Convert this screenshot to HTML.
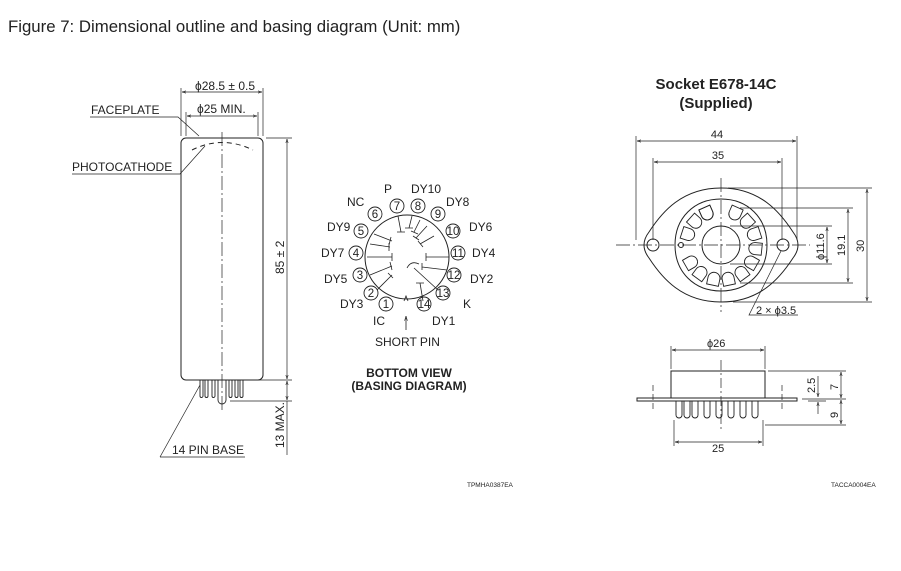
<!DOCTYPE html>
<html><head><meta charset="utf-8"><style>
html,body{margin:0;padding:0;background:#fff;}
svg{display:block;font-family:"Liberation Sans",Arial,sans-serif;}
text{fill:#222;}
</style></head><body>
<svg width="901" height="571" viewBox="0 0 901 571" xmlns="http://www.w3.org/2000/svg">
<defs>
<marker id="a" viewBox="0 0 10 10" refX="10" refY="5" markerWidth="6" markerHeight="6" orient="auto-start-reverse"><path d="M0,2 L10,5 L0,8" fill="none" stroke="#222" stroke-width="1.2"/></marker>
</defs>
<text x="8" y="32" font-size="16.8">Figure 7: Dimensional outline and basing diagram (Unit: mm)</text>

<g stroke="#222" stroke-width="1" fill="none">
<rect x="181" y="138" width="82" height="242" rx="5"/>
<path d="M192,150 Q222,135 253,150" stroke-dasharray="5,4"/>
<line x1="222" y1="132" x2="222" y2="412" stroke-dasharray="14,3,2,3" stroke-width="0.7"/>
<g stroke-width="0.9">
<path d="M200,380 v16 a1.5,1.5 0 0 0 3,0 v-16 M205,380 v16 a1.5,1.5 0 0 0 3,0 v-16 M212,380 v16 a1.5,1.5 0 0 0 3,0 v-16 M218,380 v20 a4,4 0 0 0 8,0 v-20 M229,380 v16 a1.5,1.5 0 0 0 3,0 v-16 M235,380 v16 a1.5,1.5 0 0 0 3,0 v-16 M240,380 v16 a1.5,1.5 0 0 0 3,0 v-16"/>
</g>
<line x1="181" y1="136" x2="181" y2="88" stroke-width="0.7"/>
<line x1="263" y1="136" x2="263" y2="88" stroke-width="0.7"/>
<line x1="182" y1="92" x2="262" y2="92" marker-start="url(#a)" marker-end="url(#a)" stroke-width="0.7"/>
<line x1="186" y1="136" x2="186" y2="112" stroke-width="0.7"/>
<line x1="258" y1="136" x2="258" y2="112" stroke-width="0.7"/>
<line x1="187" y1="116" x2="257" y2="116" marker-start="url(#a)" marker-end="url(#a)" stroke-width="0.7"/>
<line x1="266" y1="138" x2="292" y2="138" stroke-width="0.7"/>
<line x1="244" y1="380" x2="292" y2="380" stroke-width="0.7"/>
<line x1="230" y1="401" x2="292" y2="401" stroke-width="0.7"/>
<line x1="287" y1="139" x2="287" y2="379" marker-start="url(#a)" marker-end="url(#a)" stroke-width="0.7"/>
<line x1="287" y1="381" x2="287" y2="400" marker-start="url(#a)" marker-end="url(#a)" stroke-width="0.7"/>
<line x1="287" y1="401" x2="287" y2="455" stroke-width="0.7"/>
<polyline points="90,117 178,117 199,136" stroke-width="0.7"/>
<polyline points="72,174 180,174 205,146" stroke-width="0.7"/>
<polyline points="160,457 245,457" stroke-width="0.7"/>
<line x1="160" y1="457" x2="200" y2="385" stroke-width="0.7"/>
</g>
<g font-size="12">
<text x="195" y="90">ϕ28.5 ± 0.5</text>
<text x="197" y="113">ϕ25 MIN.</text>
<text x="91" y="114">FACEPLATE</text>
<text x="72" y="171">PHOTOCATHODE</text>
<text x="172" y="454">14 PIN BASE</text>
<text transform="translate(284,274) rotate(-90)">85 ± 2</text>
<text transform="translate(284,448) rotate(-90)">13 MAX.</text>
</g>

<g stroke="#222" stroke-width="1" fill="none">
<circle cx="407" cy="257" r="42"/>
<g stroke-width="0.8">
<path d="M398,216 L401,232 M397,232 h8 M412,216 L409,228 M405,228 h8 M420,220 L414,232 M411,231 l7,3 M427,226 L416,238 M413,236 l6,4 M434,236 L420,244 M418,241 l5,6 M449,257 L426,257 M426,253 v8 M447,270 L422,267 M422,263 v7 M438,290 L414,268 M419,264 q-8,-4 -12,4 M423,301 L420,283 M416,283 h8 M367,257 L392,257 M392,253 v8 M370,244 L390,247 M389,243 v8 M374,234 L392,241 M391,237 l-2,8 M370,275 L392,266 M390,262 l2,8 M377,290 L392,275 M388,273 l5,5 M404,301 L406,296 L408,301"/>
</g>
<g stroke-width="0.9">
<circle cx="386" cy="304" r="7"/><circle cx="371" cy="293" r="7"/><circle cx="360" cy="275" r="7"/><circle cx="356" cy="253" r="7"/><circle cx="361" cy="231" r="7"/><circle cx="375" cy="214" r="7"/><circle cx="397" cy="206" r="7"/><circle cx="418" cy="206" r="7"/><circle cx="438" cy="214" r="7"/><circle cx="453" cy="231" r="7"/><circle cx="458" cy="253" r="7"/><circle cx="454" cy="275" r="7"/><circle cx="443" cy="293" r="7"/><circle cx="424" cy="304" r="7"/>
</g>
<line x1="406" y1="330" x2="406" y2="316" marker-end="url(#a)" stroke-width="0.8"/>
</g>
<g font-size="11.5" text-anchor="middle">
<text x="386" y="308">1</text><text x="371" y="297">2</text><text x="360" y="279">3</text><text x="356" y="257">4</text><text x="361" y="235">5</text><text x="375" y="218">6</text><text x="397" y="210">7</text><text x="418" y="210">8</text><text x="438" y="218">9</text><text x="453" y="235">10</text><text x="458" y="257">11</text><text x="454" y="279">12</text><text x="443" y="297">13</text><text x="424" y="308">14</text>
</g>
<g font-size="12">
<text x="384" y="193">P</text><text x="411" y="193">DY10</text><text x="347" y="206">NC</text><text x="446" y="206">DY8</text>
<text x="327" y="231">DY9</text><text x="469" y="231">DY6</text><text x="321" y="257">DY7</text><text x="472" y="257">DY4</text>
<text x="324" y="283">DY5</text><text x="470" y="283">DY2</text><text x="340" y="308">DY3</text><text x="463" y="308">K</text>
<text x="373" y="325">IC</text><text x="432" y="325">DY1</text>
<text x="375" y="346">SHORT PIN</text>
<text x="409" y="377" font-weight="bold" text-anchor="middle">BOTTOM VIEW</text>
<text x="409" y="390" font-weight="bold" text-anchor="middle">(BASING DIAGRAM)</text>
</g>
<text x="467" y="487" font-size="6.5">TPMHA0387EA</text>
<text x="831" y="487" font-size="6.5">TACCA0004EA</text>

<text x="716" y="89" font-size="15" font-weight="bold" text-anchor="middle">Socket E678-14C</text>
<text x="716" y="108" font-size="15" font-weight="bold" text-anchor="middle">(Supplied)</text>
<g stroke="#222" stroke-width="1" fill="none">
<path d="M721,188 C760,188 780,212 793,232 Q803,245 793,258 C780,278 760,302 721,302 C682,302 662,278 649,258 Q639,245 649,232 C662,212 682,188 721,188 Z"/>
<path d="M721,199 C748,199 767,218 767,245 C767,272 748,291 721,291 C694,291 675,272 675,245 C675,218 694,199 721,199 Z"/>
<circle cx="721" cy="245" r="19"/>
<circle cx="653" cy="245" r="6"/><circle cx="783" cy="245" r="6"/><circle cx="681" cy="245" r="2.5"/>
<g stroke-width="0.9">
<path id="pt" d="M715,204 v7 a6,6 0 0 0 12,0 v-7 z" transform="rotate(24 721 245)"/>
<use href="#pt" transform="rotate(24 721 245)"/><use href="#pt" transform="rotate(48 721 245)"/><use href="#pt" transform="rotate(72 721 245)"/><use href="#pt" transform="rotate(96 721 245)"/><use href="#pt" transform="rotate(120 721 245)"/><use href="#pt" transform="rotate(144 721 245)"/><use href="#pt" transform="rotate(168 721 245)"/><use href="#pt" transform="rotate(192 721 245)"/><use href="#pt" transform="rotate(216 721 245)"/><use href="#pt" transform="rotate(264 721 245)"/><use href="#pt" transform="rotate(288 721 245)"/><use href="#pt" transform="rotate(312 721 245)"/><use href="#pt" transform="rotate(-48 721 245)"/>
</g>
<g stroke-width="0.7">
<line x1="616" y1="245" x2="810" y2="245" stroke-dasharray="14,3,2,3"/>
<line x1="721" y1="178" x2="721" y2="312" stroke-dasharray="14,3,2,3"/>
<line x1="636" y1="240" x2="636" y2="136"/><line x1="797" y1="240" x2="797" y2="136"/>
<line x1="637" y1="141" x2="796" y2="141" marker-start="url(#a)" marker-end="url(#a)"/>
<line x1="653" y1="240" x2="653" y2="158"/><line x1="782" y1="240" x2="782" y2="158"/>
<line x1="654" y1="162" x2="781" y2="162" marker-start="url(#a)" marker-end="url(#a)"/>
<line x1="728" y1="188" x2="872" y2="188"/><line x1="733" y1="302" x2="872" y2="302"/>
<line x1="867" y1="189" x2="867" y2="301" marker-start="url(#a)" marker-end="url(#a)"/>
<line x1="740" y1="208" x2="853" y2="208"/><line x1="740" y1="283" x2="853" y2="283"/>
<line x1="848" y1="209" x2="848" y2="282" marker-start="url(#a)" marker-end="url(#a)"/>
<line x1="730" y1="226" x2="832" y2="226"/><line x1="730" y1="264" x2="832" y2="264"/>
<line x1="827" y1="227" x2="827" y2="263" marker-start="url(#a)" marker-end="url(#a)"/>
<polyline points="781,251 749,315 798,315"/>
</g>
<rect x="671" y="371" width="94" height="27"/>
<rect x="637" y="398" width="160" height="3"/>
<g stroke-width="0.9">
<path d="M676,401 v14 a3,3 0 0 0 6,0 v-14 M684,401 v14 a3,3 0 0 0 6,0 v-14 M692,401 v14 a3,3 0 0 0 6,0 v-14 M704,401 v14 a3,3 0 0 0 6,0 v-14 M716,401 v14 a3,3 0 0 0 6,0 v-14 M728,401 v14 a3,3 0 0 0 6,0 v-14 M740,401 v14 a3,3 0 0 0 6,0 v-14 M752,401 v14 a3,3 0 0 0 6,0 v-14"/>
</g>
<g stroke-width="0.7">
<line x1="721" y1="360" x2="721" y2="432" stroke-dasharray="10,3,2,3"/>
<line x1="653" y1="385" x2="653" y2="410" stroke-dasharray="6,3"/><line x1="782" y1="385" x2="782" y2="410" stroke-dasharray="6,3"/>
<line x1="671" y1="369" x2="671" y2="346"/><line x1="765" y1="369" x2="765" y2="346"/>
<line x1="672" y1="350" x2="764" y2="350" marker-start="url(#a)" marker-end="url(#a)"/>
<line x1="674" y1="420" x2="674" y2="446"/><line x1="763" y1="420" x2="763" y2="446"/>
<line x1="675" y1="442" x2="762" y2="442" marker-start="url(#a)" marker-end="url(#a)"/>
<line x1="768" y1="371" x2="846" y2="371"/><line x1="802" y1="399" x2="846" y2="399"/><line x1="765" y1="425" x2="846" y2="425"/>
<line x1="841" y1="372" x2="841" y2="398" marker-start="url(#a)" marker-end="url(#a)"/>
<line x1="841" y1="400" x2="841" y2="424" marker-start="url(#a)" marker-end="url(#a)"/>
<line x1="818" y1="376" x2="818" y2="397" marker-end="url(#a)"/>
<line x1="818" y1="414" x2="818" y2="402" marker-end="url(#a)"/>
<line x1="808" y1="401" x2="826" y2="401"/>
</g>
</g>
<g font-size="11">
<text x="717" y="138" text-anchor="middle">44</text>
<text x="718" y="159" text-anchor="middle">35</text>
<text transform="translate(864,252) rotate(-90)">30</text>
<text transform="translate(845,256) rotate(-90)">19.1</text>
<text transform="translate(824,260) rotate(-90)">ϕ11.6</text>
<text x="756" y="314">2 × ϕ3.5</text>
<text x="707" y="347">ϕ26</text>
<text x="712" y="452">25</text>
<text transform="translate(838,390) rotate(-90)">7</text>
<text transform="translate(815,393) rotate(-90)">2.5</text>
<text transform="translate(838,418) rotate(-90)">9</text>
</g>
</svg>
</body></html>
